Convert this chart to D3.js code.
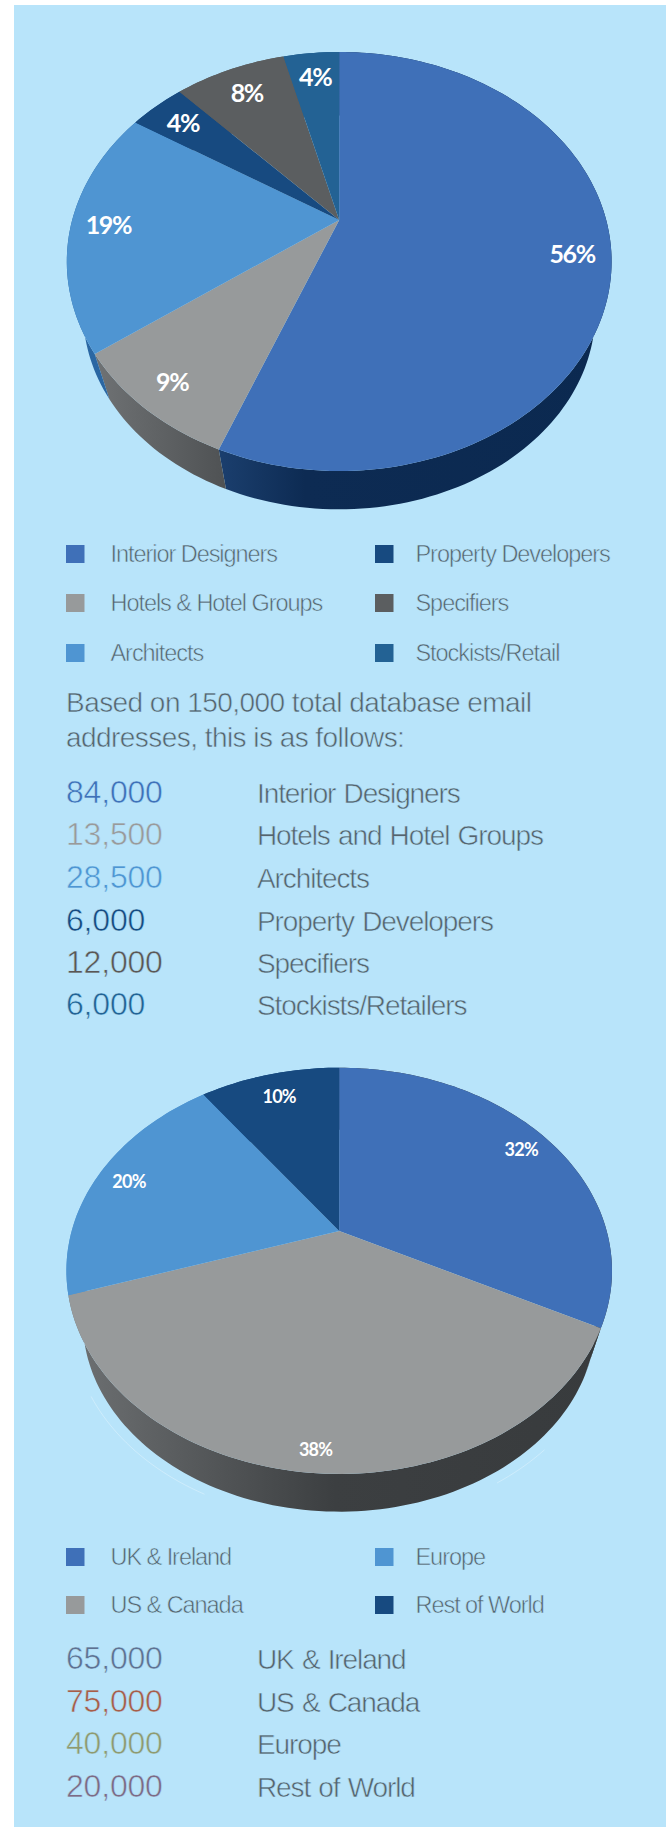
<!DOCTYPE html>
<html>
<head>
<meta charset="utf-8">
<script src="https://cdn.jsdelivr.net/npm/d3@7"></script>
<style>
  html, body { margin: 0; padding: 0; background: #ffffff; }
  svg { display: block; }
  .thin { font-family: "Liberation Sans", sans-serif; stroke: #b8e4fa; stroke-width: 0.55px; }
  .pct { font-family: Lato, sans-serif; font-weight: 700; fill: #ffffff; text-anchor: middle; }
</style>
</head>
<body>
<div id="chart"></div>
<script>
// audience by type
const typeNames = ["Interior Designers", "Hotels & Hotel Groups", "Architects", "Property Developers", "Specifiers", "Stockists/Retail"];
const typeLabels = [56, 9, 19, 4, 8, 4];
const typeRows = ["Interior Designers", "Hotels and Hotel Groups", "Architects", "Property Developers", "Specifiers", "Stockists/Retailers"];
const typeCounts = [84000, 13500, 28500, 6000, 12000, 6000];

// audience by region
const regionNames = ["UK & Ireland", "US & Canada", "Europe", "Rest of World"];
const regionLabels = [32, 38, 20, 10];
const regionCounts = [65000, 75000, 40000, 20000];

const introLines = ["Based on 150,000 total database email", "addresses, this is as follows:"];

const blue = "#3f70b8", grey = "#979a9b", sky = "#4f95d2", navy = "#174a80", slate = "#5b5e60", steel = "#236294";
const panelColor = "#b8e4fa";
const textColor = "#56636d";

const width = 670;
const height = 1827;

const svg = d3.select("#chart")
  .append("svg")
  .attr("width", width)
  .attr("height", height);

const defs = svg.append("defs");

svg.append("rect")
  .attr("x", 14)
  .attr("y", 5)
  .attr("width", 652)
  .attr("height", height - 5)
  .attr("fill", panelColor);

function addGradient(id, stops) {
  const g = defs.append("linearGradient").attr("id", id);
  stops.forEach(s => g.append("stop").attr("offset", s[0]).attr("stop-color", s[1]));
  return `url(#${id})`;
}

// tilted disc: circle pushed through a small perspective term, apex stays at (cx, cy)
function disc(cx, cy, rx, ry, p) {
  return (angle, r) => {
    const u = Math.sin(angle) * r;
    const v = -Math.cos(angle) * r;
    const w = 1 + p * v;
    return [cx + rx * u / w, cy + ry * v / w];
  };
}

function arcPoints(project, a0, a1) {
  const n = Math.max(2, Math.ceil(Math.abs(a1 - a0) * 40));
  return d3.range(n + 1).map(i => project(a0 + (a1 - a0) * i / n, 1));
}

const path = d3.line();

function drawPie(opts) {
  const g = svg.append("g");
  const slices = d3.pie().sort(null)(opts.values);
  const top = disc(opts.cx, opts.cy, opts.rx, opts.ry, opts.p);
  const bottom = disc(opts.cx, opts.cy + opts.drop, opts.rx * opts.shrink, opts.ry * opts.shrink, opts.p);

  // side wall first, the top face paints over whatever it does not need
  g.selectAll("path.wall")
    .data(slices)
    .enter()
    .append("path")
    .attr("class", "wall")
    .attr("d", d => path(arcPoints(top, d.startAngle, d.endAngle)
      .concat(arcPoints(bottom, d.endAngle, d.startAngle))) + "Z")
    .attr("fill", (d, i) => opts.walls[i]);

  g.selectAll("path.face")
    .data(slices)
    .enter()
    .append("path")
    .attr("class", "face")
    .attr("d", d => path([[opts.cx, opts.cy]].concat(arcPoints(top, d.startAngle, d.endAngle))) + "Z")
    .attr("fill", (d, i) => opts.colors[i]);

  g.selectAll("text")
    .data(slices)
    .enter()
    .append("text")
    .attr("class", "pct")
    .attr("x", (d, i) => top((d.startAngle + d.endAngle) / 2, opts.labelR[i])[0])
    .attr("y", (d, i) => top((d.startAngle + d.endAngle) / 2, opts.labelR[i])[1])
    .attr("dy", "0.36em")
    .style("font-size", opts.labelSize + "px")
    .style("letter-spacing", opts.labelTrack + "px")
    .text((d, i) => opts.labels[i] + "%");
}

function drawLegend(names, colors, rowY, perColumn) {
  const columns = [66, 375];
  const g = svg.append("g");
  names.forEach((name, i) => {
    const col = Math.floor(i / perColumn);
    const y = rowY[i % perColumn];
    g.append("rect")
      .attr("x", columns[col])
      .attr("y", y - 17)
      .attr("width", 18.5)
      .attr("height", 18)
      .attr("fill", colors[i]);
    g.append("text")
      .attr("class", "thin")
      .attr("x", columns[col] + (col === 0 ? 44.5 : 40.5))
      .attr("y", y)
      .attr("fill", textColor)
      .style("font-size", "23.5px")
      .style("letter-spacing", "-1.05px")
      .text(name);
  });
}

function drawRows(counts, labels, colors, rowY) {
  const g = svg.append("g");
  const fmt = d3.format(",");
  counts.forEach((count, i) => {
    g.append("text")
      .attr("class", "thin")
      .attr("x", 66)
      .attr("y", rowY[i])
      .attr("fill", colors[i])
      .style("font-size", "32px")
      .style("letter-spacing", "-0.2px")
      .text(fmt(count));
    g.append("text")
      .attr("class", "thin")
      .attr("x", 257)
      .attr("y", rowY[i])
      .attr("fill", textColor)
      .style("font-size", "28px")
      .style("letter-spacing", "-1.1px")
      .style("word-spacing", "1.5px")
      .text(labels[i]);
  });
}

// first pie
drawPie({
  values: typeCounts,
  labels: typeLabels,
  cx: 339.2, cy: 220, rx: 267, ry: 201.3, p: -0.198,
  drop: 53.4, shrink: 0.94,
  colors: [blue, grey, sky, navy, slate, steel],
  walls: [
    addGradient("wallNavy", [[0, "#1b3f6e"], [0.22, "#0d2b53"], [1, "#0b2950"]]),
    addGradient("wallGrey", [[0, "#6f7274"], [1, "#4f5254"]]),
    "#2a67a3", "#174a80", "#5b5e60", "#236294"
  ],
  labelR: [0.86, 0.88, 0.86, 0.84, 0.82, 0.83],
  labelSize: 25,
  labelTrack: -1.3
});

drawLegend(typeNames, [blue, grey, sky, navy, slate, steel], [562, 611, 661], 3);

svg.append("g").selectAll("text")
  .data(introLines)
  .enter()
  .append("text")
  .attr("class", "thin")
  .attr("x", 66)
  .attr("y", (d, i) => 712 + i * 35)
  .attr("fill", textColor)
  .style("font-size", "28px")
  .style("letter-spacing", "-0.55px")
  .text(d => d);

drawRows(typeCounts, typeRows, [blue, "#9a9a9a", sky, navy, "#5b5654", steel], [803, 845.4, 887.8, 930.5, 973, 1015]);

// second pie
drawPie({
  values: regionCounts,
  labels: regionLabels,
  cx: 339.2, cy: 1231, rx: 267.5, ry: 195.3, p: -0.196,
  drop: 52.3, shrink: 0.94,
  colors: [blue, grey, sky, navy],
  walls: [
    "#3a3d3f",
    addGradient("wallDark", [[0, "#6e7173"], [0.5, "#3c3f41"], [1, "#383b3d"]]),
    "#4f95d2", "#174a80"
  ],
  labelR: [0.87, 0.92, 0.87, 0.84],
  labelSize: 18,
  labelTrack: -0.7
});

// the thin pale sliver left around the second pie's base
const slivers = [[205, 238], [138, 150]];
const outerBase = disc(339.2, 1283.3, 267.5 * 0.98, 195.3 * 0.98, -0.196);
svg.append("g").selectAll("path")
  .data(slivers)
  .enter()
  .append("path")
  .attr("d", d => path(arcPoints(outerBase, d[0] * Math.PI / 180, d[1] * Math.PI / 180)))
  .attr("fill", "none")
  .attr("stroke", "#ffffff")
  .attr("stroke-opacity", 0.3)
  .attr("stroke-width", 1);

drawLegend(regionNames, [blue, grey, sky, navy], [1565, 1613], 2);

drawRows(regionCounts, regionNames, ["#5f7191", "#a85d48", "#8f9a6f", "#7d6a85"], [1669, 1711.7, 1754, 1796.7]);
</script>
</body>
</html>
